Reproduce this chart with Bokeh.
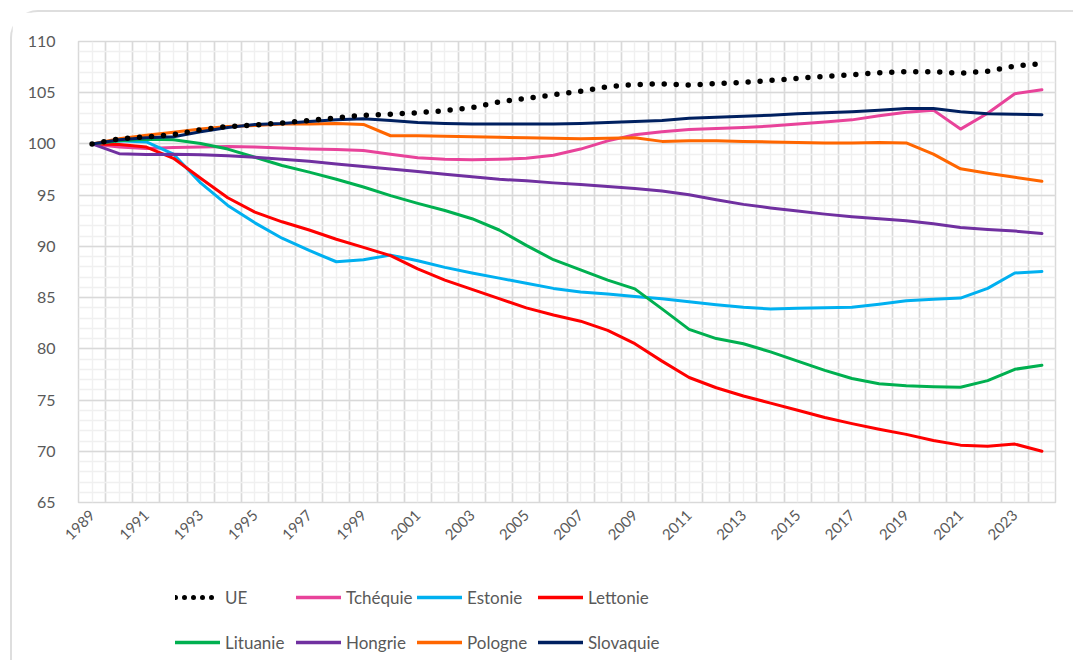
from math import pi
from bokeh.plotting import figure
from bokeh.layouts import column
from bokeh.models import FixedTicker, Legend, LegendItem, Range1d
from bokeh.embed import file_html
from bokeh.resources import INLINE

years = list(range(1989, 2025))
x_tick_years = list(range(1989, 2024, 2))
y_ticks = list(range(65, 111, 5))

ue = [100, 100.5, 100.7, 100.9, 101.4, 101.7, 101.85, 102.05, 102.3, 102.55,
      102.8, 102.9, 103.05, 103.25, 103.55, 104.1, 104.45, 104.8, 105.15, 105.6,
      105.8, 105.87, 105.75, 105.9, 106.0, 106.2, 106.4, 106.6, 106.75, 106.95,
      107.05, 107.05, 106.9, 107.1, 107.6, 107.85]
tchequie = [100, 99.7, 99.55, 99.65, 99.7, 99.75, 99.7, 99.6, 99.5, 99.45,
            99.35, 99.0, 98.65, 98.5, 98.45, 98.5, 98.6, 98.9, 99.5, 100.3,
            100.9, 101.2, 101.4, 101.5, 101.6, 101.75, 101.95, 102.15, 102.35, 102.75,
            103.1, 103.3, 101.45, 103.0, 104.9, 105.3]
estonie = [100, 100.3, 100.2, 99.0, 96.2, 94.0, 92.3, 90.8, 89.6, 88.5,
           88.7, 89.15, 88.6, 87.95, 87.4, 86.9, 86.4, 85.9, 85.55, 85.35,
           85.1, 84.9, 84.6, 84.3, 84.05, 83.9, 83.95, 84.0, 84.05, 84.35,
           84.7, 84.85, 84.95, 85.9, 87.4, 87.55]
lettonie = [100, 99.95, 99.7, 98.6, 96.65, 94.75, 93.35, 92.4, 91.6, 90.7,
            89.9, 89.1, 87.8, 86.7, 85.8, 84.9, 84.0, 83.3, 82.7, 81.8,
            80.5, 78.8, 77.2, 76.2, 75.4, 74.7, 74.0, 73.3, 72.7, 72.15,
            71.65, 71.05, 70.6, 70.5, 70.7, 70.0]
lituanie = [100, 100.3, 100.45, 100.4, 100.05, 99.5, 98.7, 97.9, 97.25, 96.55,
            95.8, 94.95, 94.2, 93.5, 92.7, 91.6, 90.1, 88.7, 87.7, 86.7,
            85.85, 83.9, 81.9, 81.0, 80.5, 79.7, 78.8, 77.9, 77.1, 76.6,
            76.4, 76.3, 76.25, 76.9, 78.0, 78.4]
hongrie = [100, 99.05, 98.98, 99.0, 98.95, 98.85, 98.7, 98.5, 98.3, 98.05,
           97.8, 97.55, 97.3, 97.05, 96.8, 96.55, 96.4, 96.2, 96.05, 95.85,
           95.65, 95.4, 95.05, 94.55, 94.1, 93.75, 93.45, 93.15, 92.9, 92.7,
           92.5, 92.2, 91.85, 91.65, 91.5, 91.25]
pologne = [100, 100.5, 100.85, 101.15, 101.45, 101.7, 101.8, 101.95, 101.95, 102.0,
           101.9, 100.8, 100.8, 100.75, 100.7, 100.65, 100.6, 100.55, 100.5, 100.55,
           100.6, 100.25, 100.3, 100.3, 100.25, 100.2, 100.15, 100.1, 100.1, 100.15,
           100.1, 99.0, 97.57, 97.14, 96.75, 96.35]
slovaquie = [100, 100.4, 100.6, 100.7, 101.2, 101.6, 101.9, 102.0, 102.2, 102.35,
             102.45, 102.3, 102.1, 102.0, 101.95, 101.95, 101.95, 101.95, 102.0, 102.1,
             102.2, 102.3, 102.5, 102.6, 102.7, 102.8, 102.95, 103.05, 103.15, 103.3,
             103.45, 103.45, 103.15, 102.95, 102.9, 102.85]

names = ["UE", "Tchéquie", "Estonie", "Lettonie", "Lituanie", "Hongrie", "Pologne", "Slovaquie"]
series = [ue, tchequie, estonie, lettonie, lituanie, hongrie, pologne, slovaquie]
colors = ["#000000", "#E8439A", "#00B0F0", "#FF0000", "#00B050", "#7030A0", "#FF6600", "#002060"]

FONT = "Lato"
TXT = "#595959"


def draw_series(fig, i, width=3, dot=5.5, gap="0 12"):
    if i == 0:
        return fig.line(years, series[i], line_color=colors[i], line_width=dot,
                        line_dash=gap, line_cap="round")
    return fig.line(years, series[i], line_color=colors[i], line_width=width,
                    line_join="round", line_cap="round")


# ---------------- main chart ----------------
p = figure(width=1061, height=548, output_backend="svg", toolbar_location=None,
           x_range=Range1d(years[0] - 0.5, years[-1] + 0.5),
           y_range=Range1d(y_ticks[0], y_ticks[-1]),
           min_border_left=66, min_border_right=18, min_border_top=29, min_border_bottom=58)
p.background_fill_color = "white"
p.border_fill_color = "white"
p.outline_line_color = "#D9D9D9"
p.outline_line_width = 1.5

p.xgrid.ticker = FixedTicker(ticks=[y - 0.5 for y in years] + [years[-1] + 0.5], minor_ticks=years)
p.ygrid.ticker = FixedTicker(ticks=y_ticks, minor_ticks=list(range(y_ticks[0], y_ticks[-1] + 1)))
for g in (p.xgrid, p.ygrid):
    g.grid_line_color = "#D9D9D9"
    g.grid_line_width = 1.7
    g.minor_grid_line_color = "#F0F0F0"
    g.minor_grid_line_width = 1.5

p.xaxis.ticker = FixedTicker(ticks=x_tick_years)
p.yaxis.ticker = FixedTicker(ticks=y_ticks)
p.xaxis.major_label_orientation = pi / 4
for ax in (p.xaxis, p.yaxis):
    ax.axis_line_color = None
    ax.major_tick_line_color = None
    ax.minor_tick_line_color = None
    ax.major_label_text_font = FONT
    ax.major_label_text_color = TXT
p.xaxis.major_label_text_font_size = "15px"
p.yaxis.major_label_text_font_size = "16px"
p.xaxis.major_label_standoff = 4
p.yaxis.major_label_standoff = 17

for i in list(range(1, 8)) + [0]:
    draw_series(p, i)

# ---------------- legend strip ----------------
q = figure(width=1061, height=100, output_backend="svg", toolbar_location=None,
           x_range=Range1d(0, 1), y_range=Range1d(0, 1),
           min_border_left=0, min_border_right=0, min_border_top=0, min_border_bottom=0,
           x_axis_type=None, y_axis_type=None)
q.grid.visible = False
q.outline_line_color = None
q.background_fill_color = "white"
q.border_fill_color = "white"
legend_renderers = {i: draw_series(q, i, width=3.5, dot=5, gap="0 9") for i in range(8)}


def make_legend(idx, vy):
    lg = Legend(items=[LegendItem(label=names[i], renderers=[legend_renderers[i]]) for i in idx],
                location=(97, vy), orientation="horizontal",
                glyph_width=45, glyph_height=24, label_height=24, label_width=71,
                label_standoff=5, spacing=0, padding=0, margin=0,
                label_text_font=FONT, label_text_font_size="17px",
                label_text_color=TXT, background_fill_alpha=0, border_line_alpha=0)
    q.add_layout(lg, "center")


make_legend([0, 1, 2, 3], 51)
make_legend([4, 5, 6, 7], 6)

layout = column(p, q, spacing=0)
layout.styles = {"margin-left": "10px", "margin-top": "10px",
                 "border-top": "2px solid #DEDEDE", "border-left": "2px solid #DEDEDE",
                 "border-top-left-radius": "28px"}

open("out.html", "w").write(file_html(layout, INLINE))
